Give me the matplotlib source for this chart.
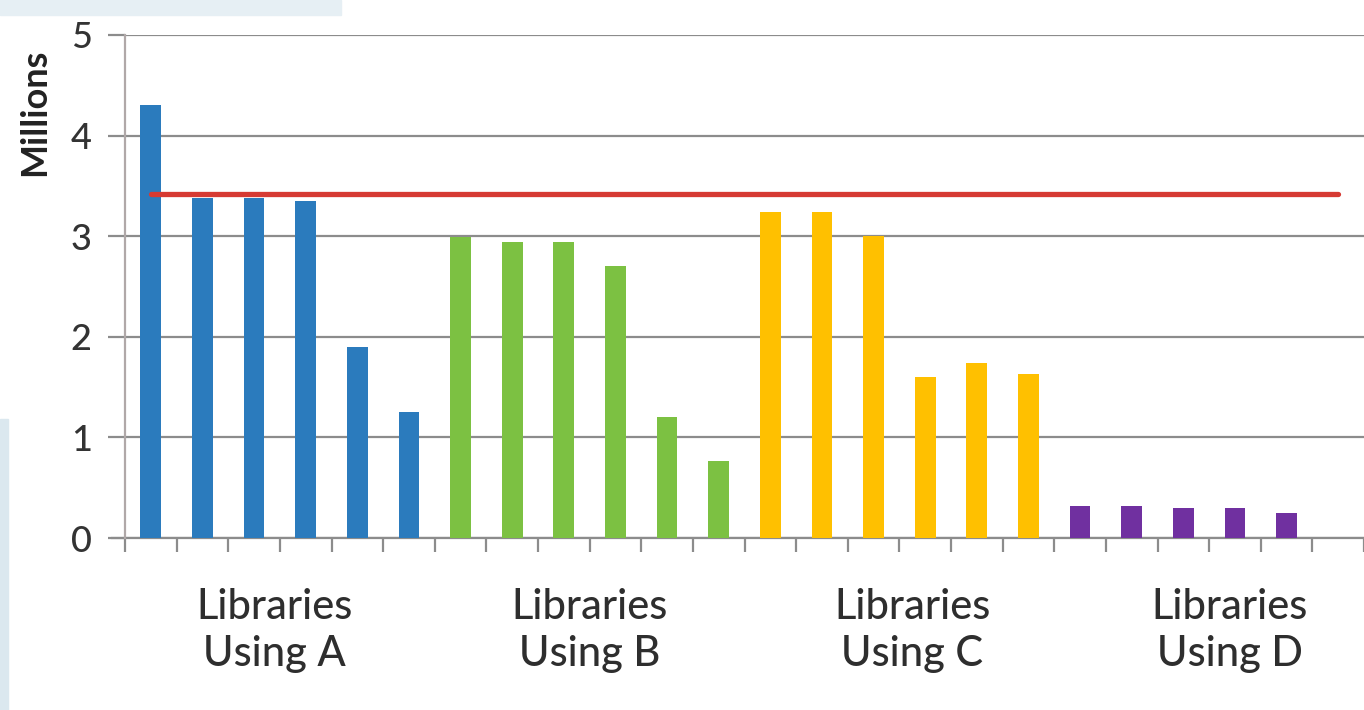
import numpy as np
import matplotlib.pyplot as plt
from matplotlib.patches import Rectangle

plt.rcParams['font.family'] = ['Lato', 'DejaVu Sans']

# values in millions, one bar per library
lib_a = [4.30, 3.38, 3.38, 3.35, 1.90, 1.25]
lib_b = [2.99, 2.94, 2.94, 2.70, 1.20, 0.77]
lib_c = [3.24, 3.24, 3.00, 1.60, 1.74, 1.63]
lib_d = [0.32, 0.32, 0.30, 0.30, 0.25]
groups = ['Libraries\nUsing A', 'Libraries\nUsing B', 'Libraries\nUsing C', 'Libraries\nUsing D']
colors = ['#2b7bbd', '#7cc142', '#ffc000', '#7030a0']
n_slots = 24
target = 3.42
label_pos = [2.4, 8.5, 14.75, 20.9]

fig = plt.figure(figsize=(13.64, 7.10), dpi=100)

# faint blue background at the left and top edges
fig.patches.append(Rectangle((0, 0), 0.006, 0.41, transform=fig.transFigure,
                             color='#dbe8ef', zorder=0))
fig.patches.append(Rectangle((0, 0.979), 0.25, 0.021, transform=fig.transFigure,
                             color='#e6eff4', zorder=0))

ax = fig.add_axes([125 / 1364, 1 - 538 / 710, 1 - 125 / 1364, 503 / 710])

start = 0
for vals, c in zip([lib_a, lib_b, lib_c, lib_d], colors):
    x = np.arange(start, start + len(vals))
    ax.bar(x, vals, width=0.4, color=c, zorder=2)
    start += len(vals)

ax.plot(np.arange(n_slots), [target] * n_slots, color='#d63a33', lw=3.8,
        solid_capstyle='round', zorder=3)

ax.set_xlim(-0.5, n_slots - 0.5)
ax.set_ylim(0, 5)
ax.set_yticks(range(6))
ax.yaxis.grid(True, color='#8c8c8c', lw=1.6, zorder=1)
ax.tick_params(axis='y', length=12, width=1.6, color='#8c8c8c', pad=12,
               labelsize=26, labelcolor='#333333')
for t in ax.get_yticklabels():
    t.set_fontweight('medium')

ax.set_xticks(np.arange(n_slots + 1) - 0.5)
ax.set_xticklabels([])
ax.tick_params(axis='x', length=10, width=1.6, color='#8c8c8c', direction='out')

for s in ['top', 'right']:
    ax.spines[s].set_visible(False)
ax.spines['left'].set_color('#b0a8a8')
ax.spines['left'].set_linewidth(1.6)
ax.spines['bottom'].set_color('#8c8c8c')
ax.spines['bottom'].set_linewidth(1.6)
ax.spines['bottom'].set_bounds(-0.75, n_slots - 0.5)
ax.spines['bottom'].set_zorder(1)

for xp, g in zip(label_pos, groups):
    ax.text(xp, -0.5, g, ha='center', va='top', fontsize=30,
            fontweight='medium', color='#2e2e2e', linespacing=1.28)

fig.text(35 / 1364, 1 - 112 / 710, 'Millions', rotation=90, ha='center',
         va='center', fontsize=26, fontweight='bold', color='#222222')

fig.savefig('out.png', dpi=100, facecolor='white')
